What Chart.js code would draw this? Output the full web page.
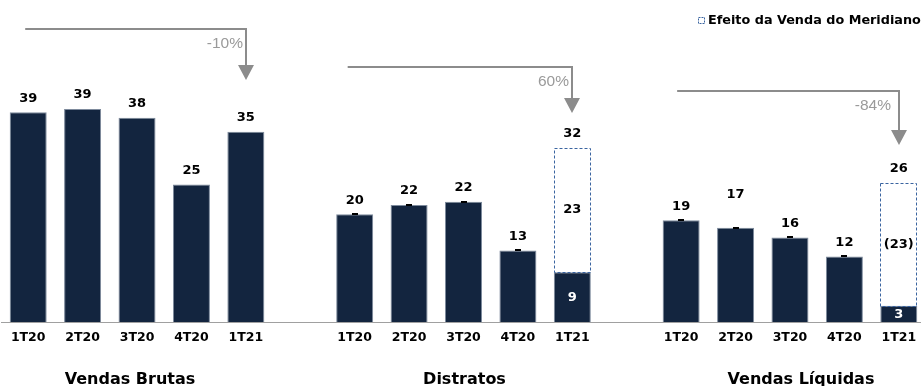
<!DOCTYPE html>
<html>
<head>
<meta charset="utf-8">
<script src="https://cdn.jsdelivr.net/npm/chart.js@4"></script>
<style>
  html, body { margin: 0; padding: 0; background: #fff; overflow: hidden; }
  #wrap { position: absolute; left: 0; top: 0; width: 927px; height: 386px; }
</style>
</head>
<body>
<div id="wrap"><canvas id="chart" width="927" height="386"></canvas></div>
<script>
// quarters shown under each group
const quarters = ["1T20", "2T20", "3T20", "4T20", "1T21"];
const groupTitles = ["Vendas Brutas", "Distratos", "Vendas Líquidas"];

// values (R$ mm)
const vendasBrutas = [38.7, 39.3, 37.7, 25.4, 35.1];
const distratos = [19.9, 21.6, 22.2, 13.2, 9.2];
const vendasLiquidas = [18.8, 17.4, 15.6, 12.1, 3.0];

// effect of the Meridiano sale, stacked on 1T21 (per group)
const efeitoMeridiano = [null, 22.9, 22.7];
const efeitoLabels = ["", "23", "(23)"];

// 1T21 vs 1T20 variation per group
const variacao = ["-10%", "60%", "-84%"];
const legendText = "Efeito da Venda do Meridiano";

// flat category list with one empty slot between groups
const labels = [...quarters, "", ...quarters, "", ...quarters];
const baseData = [...vendasBrutas, null, ...distratos, null, ...vendasLiquidas];
const topData = labels.map(() => null);
efeitoMeridiano.forEach((v, g) => { if (v != null) topData[g * 6 + 4] = v; });

const NAVY = "#13253f";
const DASH_BLUE = "#3a64a0";
const GREY = "#8c8c8c";
const BOLD = "bold 13px 'DejaVu Sans', Verdana, sans-serif";

// small nudges for hand-placed labels in the original
const labelNudge = { 13: -19 };
const titleShift = [-7, 1, 11];
const arrowStartShift = [-3, -7, -4];
const arrowLineY = [29, 67, 91];
const arrowTipY = [80, 113, 145];

const decorations = {
  id: "decorations",
  afterDatasetsDraw(chart) {
    const ctx = chart.ctx;
    const x = chart.scales.x;
    const baseMeta = chart.getDatasetMeta(0);
    const topMeta = chart.getDatasetMeta(1);
    ctx.save();

    // dashed boxes for the Meridiano effect
    topMeta.data.forEach((el, i) => {
      if (topData[i] == null) return;
      const w = el.width;
      ctx.setLineDash([3, 2]);
      ctx.strokeStyle = DASH_BLUE;
      ctx.lineWidth = 1;
      ctx.strokeRect(Math.round(el.x - w / 2) + 0.5, Math.round(el.y) + 0.5,
        Math.round(w) - 1, Math.round(el.base - el.y));
      ctx.setLineDash([]);
    });

    // little black caps on Distratos / Vendas Liquidas bars
    baseMeta.data.forEach((el, i) => {
      if (baseData[i] == null) return;
      const q = i % 6;
      if (i > 5 && q < 4) {
        ctx.fillStyle = "#000";
        ctx.fillRect(Math.round(el.x) - 3, Math.round(el.y) - 1, 6, 2);
      }
    });

    // value labels
    ctx.font = BOLD;
    ctx.textAlign = "center";
    ctx.textBaseline = "middle";
    baseMeta.data.forEach((el, i) => {
      if (baseData[i] == null) return;
      const hasTop = topData[i] != null;
      const topY = hasTop ? topMeta.data[i].y : el.y;
      const total = baseData[i] + (hasTop ? topData[i] : 0);
      ctx.fillStyle = "#000";
      ctx.fillText(String(Math.round(total)), el.x, topY - 14 + (labelNudge[i] || 0));
      if (hasTop) {
        const g = Math.floor(i / 6);
        const tel = topMeta.data[i];
        ctx.fillText(efeitoLabels[g], tel.x, (tel.y + tel.base) / 2);
        ctx.fillStyle = "#fff";
        ctx.fillText(String(Math.round(baseData[i])), el.x, (el.y + el.base) / 2 + 1);
      }
    });

    // group titles
    ctx.font = "bold 16px 'DejaVu Sans', Verdana, sans-serif";
    ctx.fillStyle = "#000";
    ctx.textBaseline = "alphabetic";
    groupTitles.forEach((t, g) => {
      ctx.fillText(t, x.getPixelForValue(g * 6 + 2) + titleShift[g], 384);
    });

    // variation arrows
    variacao.forEach((txt, g) => {
      const ax = Math.round(x.getPixelForValue(g * 6 + 4));
      const sx = x.getPixelForValue(g * 6) + arrowStartShift[g];
      const hy = arrowLineY[g];
      const ty = arrowTipY[g];
      ctx.strokeStyle = GREY;
      ctx.fillStyle = GREY;
      ctx.lineWidth = 2;
      ctx.beginPath();
      ctx.moveTo(sx, hy);
      ctx.lineTo(ax, hy);
      ctx.lineTo(ax, ty - 14);
      ctx.stroke();
      ctx.beginPath();
      ctx.moveTo(ax - 8, ty - 15);
      ctx.lineTo(ax + 8, ty - 15);
      ctx.lineTo(ax, ty);
      ctx.closePath();
      ctx.fill();
      ctx.font = "15.5px 'Liberation Sans', Arial, sans-serif";
      ctx.fillStyle = "#9a9a9a";
      ctx.textAlign = "right";
      ctx.textBaseline = "middle";
      ctx.fillText(txt, ax - (g === 2 ? 8 : 3), hy + 15);
      ctx.textAlign = "center";
      ctx.textBaseline = "alphabetic";
    });

    // legend
    ctx.setLineDash([2, 1]);
    ctx.strokeStyle = DASH_BLUE;
    ctx.lineWidth = 1;
    ctx.strokeRect(698.5, 17.5, 6, 6);
    ctx.setLineDash([]);
    ctx.font = "bold 12.8px 'DejaVu Sans', Verdana, sans-serif";
    ctx.fillStyle = "#000";
    ctx.textAlign = "left";
    ctx.textBaseline = "middle";
    ctx.fillText(legendText, 708, 21);

    ctx.restore();
  }
};

new Chart(document.getElementById("chart"), {
  type: "bar",
  data: {
    labels: labels,
    datasets: [
      {
        data: baseData,
        backgroundColor: NAVY,
        borderColor: "#7d8a9c",
        borderWidth: 1,
        barPercentage: 0.68,
        categoryPercentage: 1
      },
      {
        data: topData,
        backgroundColor: "#ffffff",
        borderWidth: 0,
        barPercentage: 0.68,
        categoryPercentage: 1
      }
    ]
  },
  options: {
    responsive: false,
    animation: false,
    layout: { padding: { top: 24, left: 1, right: 1, bottom: 33 } },
    plugins: { legend: { display: false }, tooltip: { enabled: false } },
    scales: {
      x: {
        stacked: true,
        grid: { display: false, drawTicks: false, tickLength: 0 },
        border: { display: true, color: "#a0a0a0", width: 1 },
        ticks: {
          color: "#000",
          padding: 8,
          maxRotation: 0,
          autoSkip: false,
          font: { family: "'DejaVu Sans', Verdana, sans-serif", size: 12.5, weight: "bold" }
        }
      },
      y: { stacked: true, display: false, min: 0, max: 55 }
    }
  },
  plugins: [decorations]
});
</script>
</body>
</html>
